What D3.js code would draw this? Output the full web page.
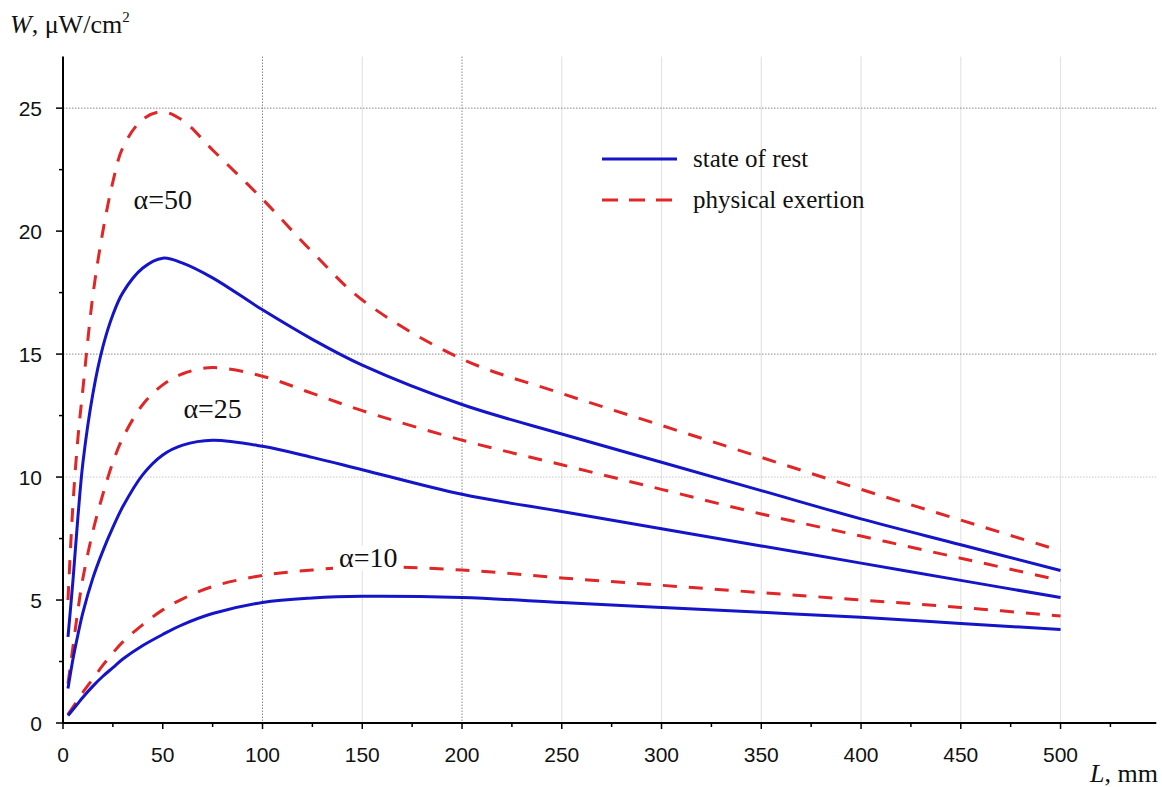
<!DOCTYPE html>
<html>
<head>
<meta charset="utf-8">
<script src="https://cdn.jsdelivr.net/npm/d3@7"></script>
<style>
  html, body { margin: 0; padding: 0; background: #fff; }
  svg { display: block; }
</style>
</head>
<body>
<svg id="chart" width="1162" height="787"></svg>
<script>
// ---- Data ----
const L = [2.5, 5, 7.5, 10, 15, 20, 25, 30, 40, 50, 60, 75, 100, 125, 150, 200, 250, 300, 350, 400, 450, 500];

const rest50 = [3.5, 5.8, 8.4, 10.6, 13.4, 15.3, 16.6, 17.5, 18.5, 18.9, 18.7, 18.1, 16.8, 15.6, 14.55, 12.95, 11.75, 10.6, 9.45, 8.3, 7.25, 6.2];
const exert50 = [5.0, 8.9, 11.6, 13.6, 17.4, 20.0, 22.0, 23.4, 24.55, 24.85, 24.5, 23.3, 21.3, 19.15, 17.2, 14.8, 13.4, 12.1, 10.8, 9.5, 8.25, 7.0];
const rest25 = [1.4, 2.6, 3.6, 4.5, 5.9, 7.0, 7.95, 8.8, 10.1, 10.9, 11.3, 11.5, 11.25, 10.8, 10.3, 9.3, 8.6, 7.9, 7.2, 6.5, 5.8, 5.1];
const exert25 = [1.6, 3.1, 4.6, 5.9, 7.8, 9.3, 10.6, 11.6, 12.95, 13.75, 14.2, 14.45, 14.1, 13.4, 12.7, 11.5, 10.5, 9.5, 8.5, 7.6, 6.7, 5.8];
const rest10 = [0.3, 0.55, 0.8, 1.05, 1.5, 1.9, 2.25, 2.6, 3.15, 3.6, 4.0, 4.45, 4.9, 5.08, 5.15, 5.1, 4.9, 4.7, 4.5, 4.3, 4.05, 3.8];
const exert10 = [0.35, 0.65, 0.95, 1.25, 1.8, 2.35, 2.85, 3.3, 4.0, 4.6, 5.05, 5.55, 6.0, 6.22, 6.35, 6.22, 5.9, 5.6, 5.3, 5.0, 4.7, 4.35];

const xMajorTicks = [0, 50, 100, 150, 200, 250, 300, 350, 400, 450, 500];
const xMinorTicks = [25, 75, 125, 175, 225, 275, 325, 375, 425, 475, 525];
const yMajorTicks = [0, 5, 10, 15, 20, 25];
const yMinorTicks = [2.5, 7.5, 12.5, 17.5, 22.5];
const xGridDotted = [100, 200];
const xGridLight = [150, 250, 300, 350, 400, 450, 500];
const yGridDotted = [15, 25];
const yGridLight = [10];

const alphaLabels = [
  { text: "\u03b1=50", L: 50, W: 21.3, mask: false },
  { text: "\u03b1=25", L: 75, W: 12.8, mask: false },
  { text: "\u03b1=10", L: 153, W: 6.75, mask: true }
];
const legendItems = [
  { label: "state of rest", kind: "rest" },
  { label: "physical exertion", kind: "exert" }
];
const yTitle = "W";
const yTitleRest = ", \u03bcW/cm";
const xTitle = "L";
const xTitleRest = ", mm";

// ---- Drawing ----
const svg = d3.select("#chart");
const BLUE = "#1414c8";
const RED = "#e02626";
const DASH = "14,12";

const x = d3.scaleLinear().domain([0, 548]).range([63, 1156.3]);
const y = d3.scaleLinear().domain([0, 27.1]).range([723, 56.5]);

const serif = "'Liberation Serif', 'Times New Roman', serif";
const sans = "'Liberation Sans', Arial, sans-serif";

// grid
const grid = svg.append("g");
grid.selectAll(".vl").data(xGridLight).enter().append("line")
  .attr("x1", d => x(d)).attr("x2", d => x(d))
  .attr("y1", y(27.1)).attr("y2", y(0))
  .attr("stroke", "#e4e4e4").attr("stroke-width", 1.2);
grid.selectAll(".vd").data(xGridDotted).enter().append("line")
  .attr("x1", d => x(d)).attr("x2", d => x(d))
  .attr("y1", y(27.1)).attr("y2", y(0))
  .attr("stroke", "#8a8a8a").attr("stroke-width", 1).attr("stroke-dasharray", "1.5,1.5");
grid.selectAll(".hl").data(yGridLight).enter().append("line")
  .attr("x1", x(0)).attr("x2", x(548))
  .attr("y1", d => y(d)).attr("y2", d => y(d))
  .attr("stroke", "#c8c8c8").attr("stroke-width", 1).attr("stroke-dasharray", "1.5,1.5");
grid.selectAll(".hd").data(yGridDotted).enter().append("line")
  .attr("x1", x(0)).attr("x2", x(548))
  .attr("y1", d => y(d)).attr("y2", d => y(d))
  .attr("stroke", "#8a8a8a").attr("stroke-width", 1).attr("stroke-dasharray", "1.5,1.5");

// series
const line = d3.line().x(d => x(d[0])).y(d => y(d[1])).curve(d3.curveCatmullRom.alpha(0.5));
const series = [
  { v: exert50, kind: "exert" }, { v: exert25, kind: "exert" }, { v: exert10, kind: "exert" },
  { v: rest50, kind: "rest" }, { v: rest25, kind: "rest" }, { v: rest10, kind: "rest" }
];
const gSeries = svg.append("g");
series.forEach(s => {
  gSeries.append("path")
    .attr("d", line(L.map((l, i) => [l, s.v[i]])))
    .attr("fill", "none")
    .attr("stroke", s.kind === "rest" ? BLUE : RED)
    .attr("stroke-width", 3)
    .attr("stroke-dasharray", s.kind === "rest" ? null : DASH);
});

// alpha labels
const gLab = svg.append("g");
alphaLabels.forEach(a => {
  const t = gLab.append("text")
    .attr("x", x(a.L)).attr("y", y(a.W))
    .attr("text-anchor", "middle").attr("dy", "0.35em")
    .attr("font-family", serif).attr("font-size", 28).attr("fill", "#111")
    .text(a.text);
  if (a.mask) {
    const bb = t.node().getBBox();
    gLab.insert("rect", () => t.node())
      .attr("x", bb.x - 6).attr("y", bb.y + 4)
      .attr("width", bb.width + 12).attr("height", bb.height - 6)
      .attr("fill", "#fff");
  }
});

// axes
const ax = svg.append("g");
ax.append("line").attr("x1", x(0)).attr("x2", x(548)).attr("y1", y(0)).attr("y2", y(0))
  .attr("stroke", "#000").attr("stroke-width", 2);
ax.append("line").attr("x1", x(0)).attr("x2", x(0)).attr("y1", y(0)).attr("y2", y(27.1))
  .attr("stroke", "#000").attr("stroke-width", 2);

ax.selectAll(".xt").data(xMajorTicks).enter().append("line")
  .attr("x1", d => x(d)).attr("x2", d => x(d)).attr("y1", y(0)).attr("y2", y(0) + 6)
  .attr("stroke", "#000").attr("stroke-width", 1.5);
ax.selectAll(".xm").data(xMinorTicks).enter().append("line")
  .attr("x1", d => x(d)).attr("x2", d => x(d)).attr("y1", y(0)).attr("y2", y(0) + 4)
  .attr("stroke", "#000").attr("stroke-width", 1.5);
ax.selectAll(".xl").data(xMajorTicks).enter().append("text")
  .attr("x", d => x(d)).attr("y", 762)
  .attr("text-anchor", "middle").attr("font-family", sans).attr("font-size", 21).attr("fill", "#111")
  .text(d => d);

ax.selectAll(".yt").data(yMajorTicks).enter().append("line")
  .attr("x1", x(0) - 7).attr("x2", x(0)).attr("y1", d => y(d)).attr("y2", d => y(d))
  .attr("stroke", "#000").attr("stroke-width", 1.5);
ax.selectAll(".ym").data(yMinorTicks).enter().append("line")
  .attr("x1", x(0) - 4).attr("x2", x(0)).attr("y1", d => y(d)).attr("y2", d => y(d))
  .attr("stroke", "#000").attr("stroke-width", 1.5);
ax.selectAll(".yl").data(yMajorTicks).enter().append("text")
  .attr("x", 42).attr("y", d => y(d)).attr("dy", "0.36em")
  .attr("text-anchor", "end").attr("font-family", sans).attr("font-size", 21).attr("fill", "#111")
  .text(d => d);

// axis titles
const yt = svg.append("text").attr("x", 10).attr("y", 33)
  .attr("font-family", serif).attr("font-size", 26).attr("fill", "#111");
yt.append("tspan").attr("font-style", "italic").text(yTitle);
yt.append("tspan").text(yTitleRest);
yt.append("tspan").attr("font-size", 15).attr("dy", -11).text("2");

const xt = svg.append("text").attr("x", 1158).attr("y", 782).attr("text-anchor", "end")
  .attr("font-family", serif).attr("font-size", 26).attr("fill", "#111");
xt.append("tspan").attr("font-style", "italic").text(xTitle);
xt.append("tspan").text(xTitleRest);

// legend
const lg = svg.append("g");
legendItems.forEach((it, i) => {
  const yy = 159 + i * 41;
  lg.append("line").attr("x1", 602).attr("x2", 677).attr("y1", yy).attr("y2", yy)
    .attr("stroke", it.kind === "rest" ? BLUE : RED).attr("stroke-width", 3)
    .attr("stroke-dasharray", it.kind === "rest" ? null : "16,11");
  lg.append("text").attr("x", 693).attr("y", yy).attr("dy", "0.3em")
    .attr("font-family", serif).attr("font-size", 25).attr("fill", "#111")
    .text(it.label);
});
</script>
</body>
</html>
